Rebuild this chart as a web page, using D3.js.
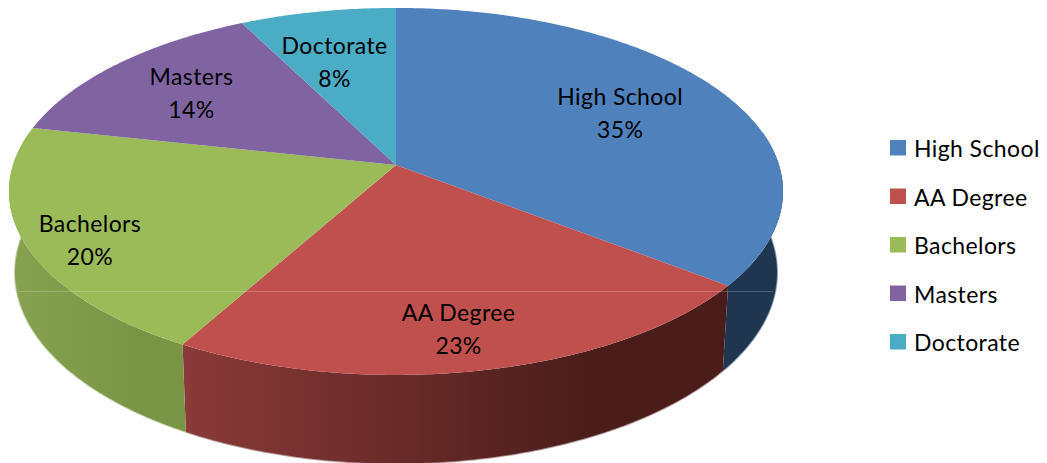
<!DOCTYPE html>
<html>
<head>
<meta charset="utf-8">
<script src="https://cdn.jsdelivr.net/npm/d3@7"></script>
<style>
  html, body { margin: 0; padding: 0; background: #fff; }
  svg { display: block; }
  text { font-family: Lato, "Open Sans", sans-serif; fill: #000; font-size: 23px; letter-spacing: 0.4px; }
</style>
</head>
<body>
<script>
var w = 1047;
var h = 463;

// data, labels show them rounded
var categories = ["High School", "AA Degree", "Bachelors", "Masters", "Doctorate"];
var shares = [35.49, 22.61, 20.3, 14.1, 7.5];

var topColors = ["#4f81bd", "#c0504d", "#9bbb59", "#8064a2", "#4bacc6"];
var wallFrom = ["#1f3650", "#8a3a38", "#86a250", "#6a5088", "#3a8fa5"];
var wallTo = ["#1f3650", "#4a1d1b", "#799444", "#6a5088", "#3a8fa5"];
var fringe = ["#8b9bad", "#b39797", "#c6d3ab", "#bbb", "#bbb"];
var labelRadius = [0.68, 0.82, 0.85, 0.71, 0.65];
var labelTurn = [0, 1.4, -3.2, -0.6, -2.1];   // degrees off the slice middle

// perspective of the disc: k pulls the near edge down and wider
var k = -0.144;
var topFace = { cx: 396, cy: 165, rx: 383, ry: 179.7 };
var bottomFace = { cx: 396, cy: 245, rx: 377, ry: 187 };

function project(face, theta, r) {
    var u = r * Math.sin(theta);
    var v = -r * Math.cos(theta);
    var d = 1 + k * v;
    return [face.cx + face.rx * u / d, face.cy + face.ry * v / d];
}

var pie = d3.pie().sort(null).value(function (d) { return d; });
var arcs = pie(shares);

var color = d3.scaleOrdinal().domain(categories).range(topColors);
var line = d3.line();

function sweep(a0, a1) {
    var n = Math.max(2, Math.ceil((a1 - a0) * 90));
    return d3.range(n + 1).map(function (i) { return a0 + (a1 - a0) * i / n; });
}

var svg = d3.select("body").append("svg")
    .attr("width", w)
    .attr("height", h);

var defs = svg.append("defs");

// only the front of the side wall can be seen
var frontStart = Math.PI * 0.44;
var frontEnd = Math.PI * 1.56;

arcs.forEach(function (d, i) {
    var a0 = Math.max(d.startAngle, frontStart);
    var a1 = Math.min(d.endAngle, frontEnd);
    if (a1 <= a0) return;

    var angles = sweep(a0, a1);
    var rim = angles.map(function (a) { return project(topFace, a, 1); });
    var base = angles.map(function (a) { return project(bottomFace, a, 1); });

    var grad = defs.append("linearGradient")
        .attr("id", "wall" + i)
        .attr("gradientUnits", "userSpaceOnUse")
        .attr("x1", d3.min(base, function (p) { return p[0]; }))
        .attr("x2", d3.max(base, function (p) { return p[0]; }))
        .attr("y1", 0)
        .attr("y2", 0);
    grad.append("stop").attr("offset", "0%").attr("stop-color", wallFrom[i]);
    grad.append("stop").attr("offset", "75%").attr("stop-color", wallTo[i]);
    grad.append("stop").attr("offset", "100%").attr("stop-color", wallTo[i]);

    svg.append("path")
        .attr("d", line(base))
        .attr("fill", "none")
        .attr("stroke", fringe[i])
        .attr("stroke-width", 2);

    svg.append("path")
        .attr("d", line(rim.concat(base.slice().reverse())) + "Z")
        .attr("fill", "url(#wall" + i + ")");
});

svg.selectAll("path.slice")
    .data(arcs)
    .enter()
    .append("path")
    .attr("class", "slice")
    .attr("d", function (d) {
        var pts = sweep(d.startAngle, d.endAngle).map(function (a) {
            return project(topFace, a, 1);
        });
        return line([[topFace.cx, topFace.cy]].concat(pts)) + "Z";
    })
    .attr("fill", function (d, i) { return color(categories[i]); });

// faint seam that runs across the pie in the original
svg.append("line")
    .attr("x1", 18).attr("x2", 773)
    .attr("y1", 291.5).attr("y2", 291.5)
    .attr("stroke", "#fff")
    .attr("stroke-opacity", 0.2);

var labels = svg.selectAll("g.label")
    .data(arcs)
    .enter()
    .append("g")
    .attr("class", "label")
    .attr("transform", function (d, i) {
        var mid = (d.startAngle + d.endAngle) / 2 + labelTurn[i] * Math.PI / 180;
        var p = project(topFace, mid, labelRadius[i]);
        return "translate(" + p[0] + "," + p[1] + ")";
    })
    .attr("text-anchor", "middle");

labels.append("text")
    .attr("y", -8)
    .text(function (d, i) { return categories[i]; });

labels.append("text")
    .attr("y", 25)
    .text(function (d) { return Math.round(d.value) + "%"; });

// legend
var legendY = d3.scalePoint().domain(categories).range([148, 342]);

var legend = svg.selectAll("g.legend")
    .data(categories)
    .enter()
    .append("g")
    .attr("class", "legend")
    .attr("transform", function (d) { return "translate(890," + legendY(d) + ")"; });

legend.append("rect")
    .attr("x", 0).attr("y", -8)
    .attr("width", 16).attr("height", 15.5)
    .attr("fill", function (d) { return color(d); });

legend.append("text")
    .attr("x", 24).attr("y", 9)
    .text(function (d) { return d; });
</script>
</body>
</html>
